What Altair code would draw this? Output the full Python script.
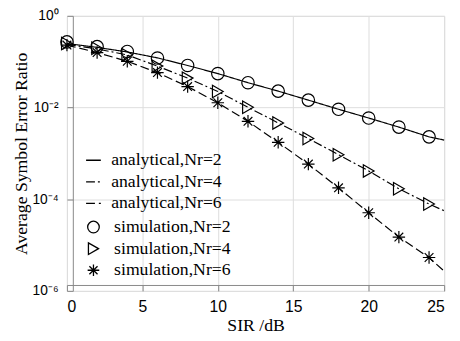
import altair as alt
import pandas as pd

# ---- data ----
snr_sim = [0, 2, 4, 6, 8, 10, 12, 14, 16, 18, 20, 22, 24]
sim_nr2 = [0.27, 0.213, 0.167, 0.12, 0.0826, 0.055, 0.0348, 0.0228, 0.0145, 0.00916, 0.0059, 0.00374, 0.00229]
sim_nr4 = [0.25, 0.196, 0.1415, 0.08, 0.0438, 0.0224, 0.0101, 0.00462, 0.00211, 0.000935, 0.000414, 0.000169, 7.85e-5]
sim_nr6 = [0.23, 0.158, 0.102, 0.0578, 0.0286, 0.0127, 0.005, 0.00174, 0.000583, 0.000177, 5.06e-5, 1.49e-5, 5.34e-6]

snr_ana = [0, 2, 4, 6, 8, 10, 12, 14, 16, 18, 20, 22, 24, 25]
ana_nr2 = [0.25, 0.205, 0.163, 0.121, 0.0826, 0.055, 0.0348, 0.0228, 0.0145, 0.00916, 0.0059, 0.00374, 0.00229, 0.00195]
ana_nr4 = [0.24, 0.19, 0.14, 0.08, 0.0438, 0.0224, 0.0101, 0.00462, 0.00211, 0.000935, 0.000414, 0.000169, 7.85e-5, 5.6e-5]
ana_nr6 = [0.23, 0.158, 0.102, 0.0578, 0.0286, 0.0127, 0.005, 0.00174, 0.000583, 0.000177, 5.06e-5, 1.49e-5, 5.34e-6, 2.7e-6]

ana_labels = ["analytical,Nr=2", "analytical,Nr=4", "analytical,Nr=6"]
sim_labels = ["simulation,Nr=2", "simulation,Nr=4", "simulation,Nr=6"]

x_ticks = [0, 5, 10, 15, 20, 25]
y_ticks = [1e-6, 1e-4, 1e-2, 1]

# ---- tables ----
ana_rows = []
for lab, ys in zip(ana_labels, [ana_nr2, ana_nr4, ana_nr6]):
    for x, y in zip(snr_ana, ys):
        ana_rows.append({"SIR": x, "SER": y, "analytical": lab})
sim_rows = []
for lab, ys in zip(sim_labels, [sim_nr2, sim_nr4, sim_nr6]):
    for x, y in zip(snr_sim, ys):
        sim_rows.append({"SIR": x, "SER": y, "simulation": lab})
ana_df = pd.DataFrame(ana_rows)
sim_df = pd.DataFrame(sim_rows)

asterisk = "M-1,0L1,0M0,-1L0,1M-0.7,-0.7L0.7,0.7M-0.7,0.7L0.7,-0.7"

title_style = dict(titleFont="Liberation Serif", titleFontSize=18, titleFontWeight="normal",
                   titleColor="black")

x_enc = alt.X("SIR:Q", scale=alt.Scale(domain=[0, 25], nice=False),
              axis=alt.Axis(values=x_ticks, title="SIR /dB", offset=-6, tickSize=6,
                            labelPadding=8, titleY=46, titleBaseline="alphabetic",
                            labelFontSize=16, labelFont="Liberation Sans", **title_style))
y_enc = alt.Y("SER:Q", scale=alt.Scale(type="log", domain=[1e-6, 1], nice=False),
              axis=alt.Axis(values=y_ticks, title="Average Symbol Error Ratio", offset=-6,
                            tickSize=6, labelPadding=9,
                            labelExpr="datum.value >= 0.5 ? '10⁰' : datum.value >= 0.005 ? '10⁻²' : datum.value >= 0.00005 ? '10⁻⁴' : '10⁻⁶'",
                            titleX=-52, titleY=140, titleBaseline="middle", titleAngle=-90,
                            labelFontSize=14, labelFont="Liberation Sans", **title_style))

lines = alt.Chart(ana_df).mark_line(color="black", strokeWidth=1.2).encode(
    x=x_enc, y=y_enc,
    strokeDash=alt.StrokeDash("analytical:N",
        scale=alt.Scale(domain=ana_labels, range=[[1, 0], [9, 3, 2, 3], [9, 4]]),
        legend=alt.Legend(orient="none", legendX=18, legendY=138, title=None,
                          symbolSize=225, symbolStrokeColor="black", symbolStrokeWidth=1.3,
                          labelFontSize=18, labelFont="Liberation Serif", labelColor="black",
                          labelOffset=9, rowPadding=4, padding=0)),
)

points = alt.Chart(sim_df).mark_point(filled=False, color="black", size=160, strokeWidth=1.2, opacity=1).encode(
    x="SIR:Q", y="SER:Q",
    shape=alt.Shape("simulation:N",
        scale=alt.Scale(domain=sim_labels, range=["circle", "triangle-right", asterisk]),
        legend=alt.Legend(orient="none", legendX=18, legendY=206, title=None,
                          symbolSize=140, symbolStrokeColor="black", symbolFillColor="transparent",
                          symbolStrokeWidth=1.3,
                          labelFontSize=18, labelFont="Liberation Serif", labelColor="black",
                          labelOffset=12, rowPadding=4, padding=0)),
)

chart = alt.layer(lines, points).resolve_legend(strokeDash="independent", shape="independent").properties(
    width=384, height=280,
    autosize=alt.AutoSizeParams(type="none"),
    padding={"left": 60, "top": 5, "right": 8, "bottom": 46},
).configure_view(stroke="black", strokeWidth=2).configure_axis(
    grid=False, domain=False, tickColor="black", tickWidth=1.2,
    labelColor="black",
).configure(background="white")

chart.save("out.html", embed_options={"renderer": "svg", "actions": False})
